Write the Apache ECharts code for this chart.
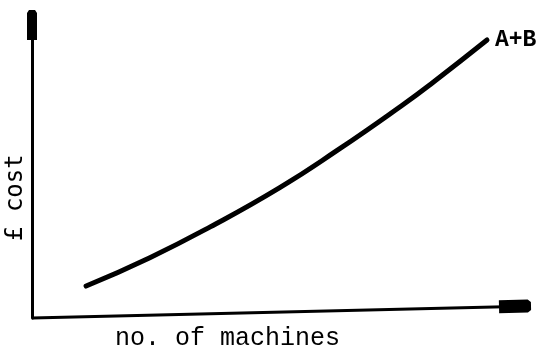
<!DOCTYPE html>
<html>
<head>
<meta charset="utf-8">
<script src="https://cdn.jsdelivr.net/npm/echarts@6/dist/echarts.min.js"></script>
<style>
  html, body { margin: 0; padding: 0; background: #fff; }
  #chart { width: 542px; height: 356px; }
</style>
</head>
<body>
<div id="chart"></div>
<script>
// Total cost of A+B against the number of machines (sketch, no tick values)
const machines = [11.2, 24.4, 36.9, 51.3, 63.1, 76.8, 83.0, 94.2];
const costAB   = [10.9, 20.6, 31.1, 44.5, 57.1, 72.8, 80.4, 94.9];
const seriesName = 'A+B';
const xTitle = 'no. of machines';
const yTitle = '£ cost';
// the hand-drawn baseline rises slightly towards its arrow head
const baselineRise = 3.96;

const ink = '#000';
const blockArrow = 'path://M2,0 L8,0 L10,3 L10,30 L0,30 L0,3 Z';

const chart = echarts.init(document.getElementById('chart'));
chart.setOption({
  animation: false,
  backgroundColor: '#fff',
  grid: { left: 32, right: 27, top: 25, bottom: 38 },
  xAxis: {
    type: 'value', min: 0, max: 100,
    axisLine: { show: false },
    axisTick: { show: false }, axisLabel: { show: false }, splitLine: { show: false }
  },
  yAxis: {
    type: 'value', min: 0, max: 100,
    axisLine: {
      show: true, onZero: false,
      lineStyle: { color: ink, width: 3 },
      symbol: ['none', blockArrow],
      symbolSize: [10, 36]
    },
    axisTick: { show: false }, axisLabel: { show: false }, splitLine: { show: false }
  },
  series: [{
    name: seriesName,
    type: 'line',
    data: machines.map((m, i) => [m, costAB[i]]),
    smooth: 0.5,
    showSymbol: false,
    lineStyle: { color: ink, width: 5, cap: 'round' },
    endLabel: {
      show: true, formatter: seriesName, distance: 8,
      color: ink, fontFamily: 'Liberation Mono', fontWeight: 'bold', fontSize: 23
    },
    markLine: {
      silent: true,
      symbol: ['none', blockArrow],
      symbolSize: [13, 32],
      label: { show: false },
      lineStyle: { color: ink, width: 3, type: 'solid' },
      data: [[{ coord: [0, 0] }, { coord: [100, baselineRise] }]]
    }
  }],
  graphic: [
    {
      type: 'text', left: 115, top: 326,
      style: { text: xTitle, fill: ink, font: '25px "Liberation Mono"' }
    },
    {
      type: 'text', x: 4, y: 241, rotation: Math.PI / 2,
      style: { text: yTitle, fill: ink, font: '24px "DejaVu Sans Mono"' }
    }
  ]
});
</script>
</body>
</html>
